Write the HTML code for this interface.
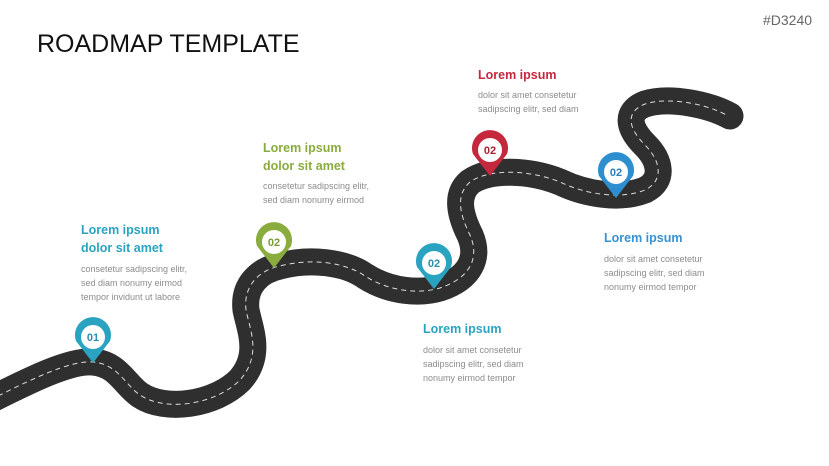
<!DOCTYPE html>
<html><head><style>
body{margin:0;width:829px;height:466px;background:#fff;position:relative;overflow:hidden;font-family:"Liberation Sans",sans-serif}
.t{position:absolute;white-space:nowrap}
.h{font-weight:bold;font-size:12.5px;line-height:18px}
.b{font-size:9px;color:#8c8c8c;line-height:14px}
</style></head><body>
<div class="t" style="left:37px;top:30px;font-size:25px;color:#111">ROADMAP TEMPLATE</div>
<div class="t" style="left:763px;top:12px;font-size:14px;color:#666">#D3240</div>

<div class="t h" style="left:81px;top:221px;color:#2aa3c0">Lorem ipsum<br>dolor sit amet</div>
<div class="t b" style="left:81px;top:262px">consetetur sadipscing elitr,<br>sed diam nonumy eirmod<br>tempor invidunt ut labore</div>

<div class="t h" style="left:263px;top:139px;color:#8aac3e">Lorem ipsum<br>dolor sit amet</div>
<div class="t b" style="left:263px;top:179px">consetetur sadipscing elitr,<br>sed diam nonumy eirmod</div>

<div class="t h" style="left:478px;top:66px;color:#c5283d">Lorem ipsum</div>
<div class="t b" style="left:478px;top:88px">dolor sit amet consetetur<br>sadipscing elitr, sed diam</div>

<div class="t h" style="left:423px;top:320px;color:#2aa3c0">Lorem ipsum</div>
<div class="t b" style="left:423px;top:343px">dolor sit amet consetetur<br>sadipscing elitr, sed diam<br>nonumy eirmod tempor</div>

<div class="t h" style="left:604px;top:229px;color:#3592d4">Lorem ipsum</div>
<div class="t b" style="left:604px;top:252px">dolor sit amet consetetur<br>sadipscing elitr, sed diam<br>nonumy eirmod tempor</div>

<svg width="829" height="466" style="position:absolute;left:0;top:0">
<path d="M -10 400 C 30 380, 70 360, 93 362 C 118 364, 125 385, 140 395 C 165 412, 215 405, 240 380 C 262 355, 250 330, 246 310 C 243 285, 260 270, 280 266 C 310 258, 345 262, 365 276 C 390 292, 420 294, 440 288 C 470 278, 480 258, 470 235 C 460 215, 455 195, 470 182 C 490 168, 530 170, 560 182 C 585 194, 620 200, 645 190 C 665 180, 660 160, 645 145 C 628 128, 625 112, 645 104 C 670 96, 710 105, 730 116" fill="none" stroke="#2f2f2f" stroke-width="27" stroke-linecap="round"/>
<path d="M -10 400 C 30 380, 70 360, 93 362 C 118 364, 125 385, 140 395 C 165 412, 215 405, 240 380 C 262 355, 250 330, 246 310 C 243 285, 260 270, 280 266 C 310 258, 345 262, 365 276 C 390 292, 420 294, 440 288 C 470 278, 480 258, 470 235 C 460 215, 455 195, 470 182 C 490 168, 530 170, 560 182 C 585 194, 620 200, 645 190 C 665 180, 660 160, 645 145 C 628 128, 625 112, 645 104 C 670 96, 710 105, 728 116" fill="none" stroke="#ddd" stroke-width="1" stroke-dasharray="5 4"/>
<g font-family="Liberation Sans,sans-serif" font-weight="bold" font-size="11" text-anchor="middle">
<g transform="translate(93,337)"><path d="M-17,4 A18,18 0 1,1 17,4 L0,26 Z" fill="#2aa3c0"/><circle r="12" fill="#fff"/><text y="4" fill="#2a8fab">01</text></g>
<g transform="translate(274,242)"><path d="M-17,4 A18,18 0 1,1 17,4 L0,26 Z" fill="#8aac3e"/><circle r="12" fill="#fff"/><text y="4" fill="#7a9a35">02</text></g>
<g transform="translate(434,263)"><path d="M-17,4 A18,18 0 1,1 17,4 L0,26 Z" fill="#2aa3c0"/><circle r="12" fill="#fff"/><text y="4" fill="#2a8fab">02</text></g>
<g transform="translate(490,150)"><path d="M-17,4 A18,18 0 1,1 17,4 L0,26 Z" fill="#c5283d"/><circle r="12" fill="#fff"/><text y="4" fill="#a52235">02</text></g>
<g transform="translate(616,172)"><path d="M-17,4 A18,18 0 1,1 17,4 L0,26 Z" fill="#2e8fd0"/><circle r="12" fill="#fff"/><text y="4" fill="#2a7fb8">02</text></g>
</g>
</svg>
</body></html>
